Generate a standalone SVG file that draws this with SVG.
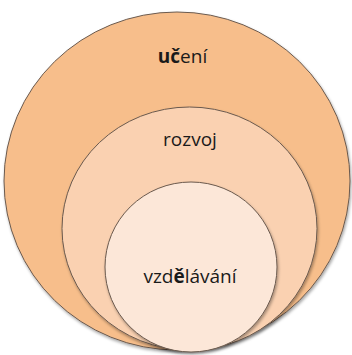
<svg xmlns="http://www.w3.org/2000/svg" width="352" height="355" viewBox="0 0 352 355">
<style>
.c{stroke:#6b5a4e;stroke-width:1}
.t{font-family:"Open Sans","Liberation Sans",sans-serif;font-size:19px;fill:#1a1a1a;text-anchor:middle}
.b{font-weight:bold}
</style>
<defs>
<filter id="sh" x="-10%" y="-10%" width="120%" height="120%">
<feDropShadow dx="1" dy="2" stdDeviation="1.5" flood-color="#000" flood-opacity="0.35"/>
</filter>
</defs>
<rect width="352" height="355" fill="#fff"/>
<g id="uceni">
<ellipse class="c" cx="177" cy="181" rx="173" ry="169" fill="#F7BE8B" filter="url(#sh)"/>
<text class="t" x="182.5" y="63"><tspan class="b">uč</tspan>ení</text>
</g>
<g id="rozvoj">
<ellipse class="c" cx="189.5" cy="228.5" rx="127.5" ry="121.5" fill="#FAD1B1" filter="url(#sh)"/>
<text class="t" x="190" y="146">rozvoj</text>
</g>
<g id="vzdelavani">
<ellipse class="c" cx="191" cy="267" rx="86" ry="85" fill="#FCE7D8" filter="url(#sh)"/>
<text class="t" x="190" y="283">vzd<tspan class="b">ě</tspan>lávání</text>
</g>
<g id="connectors"/>
</svg>
